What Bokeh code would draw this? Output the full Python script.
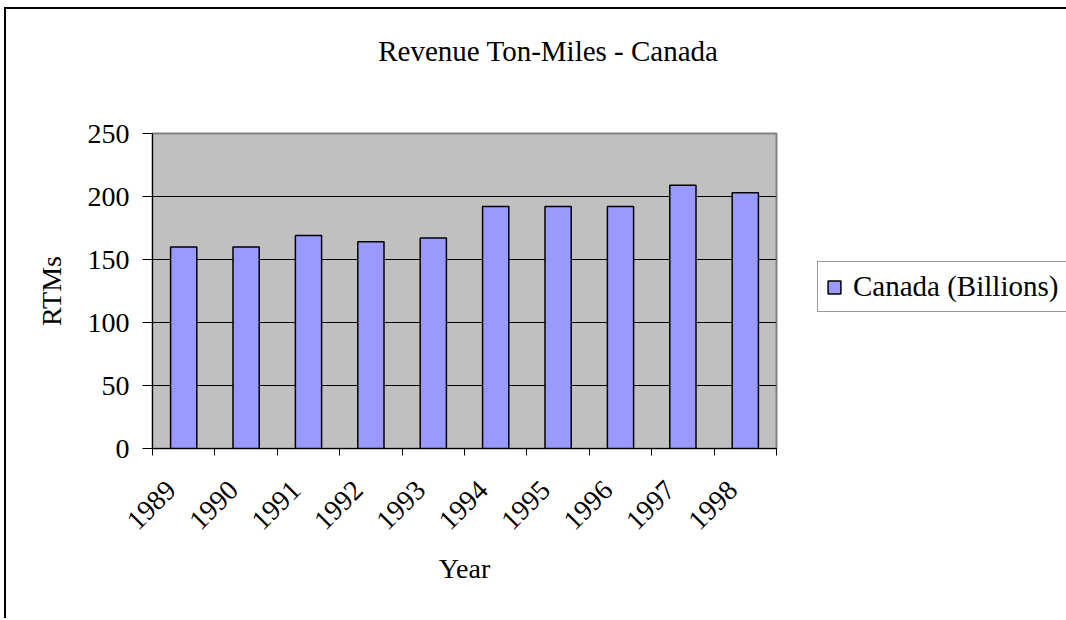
from bokeh.plotting import figure
from bokeh.models import (Range1d, FixedTicker, Legend, LegendItem, ColumnDataSource)
from bokeh.embed import file_html
from bokeh.resources import INLINE
from math import pi

# ---- data ----
years = ["1989", "1990", "1991", "1992", "1993", "1994", "1995", "1996", "1997", "1998"]
rtms = [160, 160, 169, 164, 167, 192, 192, 192, 209, 203]
y_ticks = [0, 50, 100, 150, 200, 250]
title_text = "Revenue Ton-Miles - Canada"
series_name = "Canada (Billions)"

FONT = "Liberation Serif"
FS = "28px"
FS_BIG = "29px"
LABEL_SHIFT = 0.2  # rotated year labels sit slightly left of the category centre

xs = [i + 0.5 for i in range(len(years))]
src = ColumnDataSource(dict(x=xs, top=rtms, year=years))

p = figure(frame_width=624, frame_height=315, output_backend="svg", toolbar_location=None,
           x_range=Range1d(0, len(years)), y_range=Range1d(0, 250),
           min_border_left=146, min_border_right=290,
           min_border_top=124, min_border_bottom=172)
# chart-area frame: left and top edges only (the rest is cut off in the reference)
p.margin = (9, 0, 0, 6)
p.styles = {"box-shadow": "-2px -2px 0 0 black"}

p.background_fill_color = "#C0C0C0"
p.border_fill_color = "white"
p.outline_line_color = "#808080"
p.outline_line_width = 2

r = p.vbar(x="x", top="top", width=0.42, bottom=0, source=src,
           fill_color="#9999FF", line_color="black", line_width=1.5)

# title (extra blank lines lift it well above the plot area)
p.title.text = title_text + "\n \n "
p.title.text_font = FONT
p.title.text_font_size = FS_BIG
p.title.text_font_style = "normal"
p.title.text_color = "black"
p.title.align = "right"
p.title.offset = 58
p.title.standoff = 6

# grid
p.xgrid.grid_line_color = None
p.ygrid.grid_line_color = "black"
p.ygrid.grid_line_width = 1
p.ygrid.ticker = FixedTicker(ticks=y_ticks)

# y axis
p.yaxis.ticker = FixedTicker(ticks=y_ticks)
p.yaxis.axis_label = "RTMs"
p.yaxis.axis_label_text_font = FONT
p.yaxis.axis_label_text_font_size = FS
p.yaxis.axis_label_text_font_style = "normal"
p.yaxis.axis_label_text_color = "black"
p.yaxis.axis_label_standoff = 18
p.yaxis.major_label_text_font = FONT
p.yaxis.major_label_text_font_size = FS
p.yaxis.major_label_text_color = "black"
p.yaxis.major_tick_out = 10
p.yaxis.major_tick_in = 0
p.yaxis.major_label_standoff = 13
p.yaxis.minor_tick_line_color = None
p.yaxis.axis_line_color = "black"
p.yaxis.major_tick_line_color = "black"

# x axis: labels near category centres, tick marks at category boundaries
label_pos = [x - LABEL_SHIFT for x in xs]
p.xaxis.ticker = FixedTicker(ticks=label_pos, minor_ticks=list(range(len(years) + 1)))
p.xaxis.major_label_overrides = {x: y for x, y in zip(label_pos, years)}
p.xaxis.major_label_orientation = pi / 4
p.xaxis.major_tick_line_color = None
p.xaxis.major_tick_out = 0
p.xaxis.major_tick_in = 0
p.xaxis.minor_tick_line_color = "black"
p.xaxis.minor_tick_out = 7
p.xaxis.minor_tick_in = 0
p.xaxis.major_label_standoff = 30
p.xaxis.major_label_text_font = FONT
p.xaxis.major_label_text_font_size = FS
p.xaxis.major_label_text_color = "black"
p.xaxis.axis_label = "Year"
p.xaxis.axis_label_text_font = FONT
p.xaxis.axis_label_text_font_size = FS
p.xaxis.axis_label_text_font_style = "normal"
p.xaxis.axis_label_text_color = "black"
p.xaxis.axis_label_standoff = 12
p.xaxis.axis_line_color = "black"

# legend (outside, to the right of the plot area)
legend = Legend(items=[LegendItem(label=series_name, renderers=[r])],
                location=(41, 136), orientation="vertical",
                label_text_font=FONT, label_text_font_size=FS_BIG,
                label_text_color="black", label_width=230,
                glyph_width=16, glyph_height=16, label_standoff=11,
                padding=8, margin=0, spacing=0,
                border_line_color="#333333", border_line_width=1,
                background_fill_color="white", background_fill_alpha=1)
p.add_layout(legend, "right")

open("out.html", "w").write(file_html(p, INLINE))
